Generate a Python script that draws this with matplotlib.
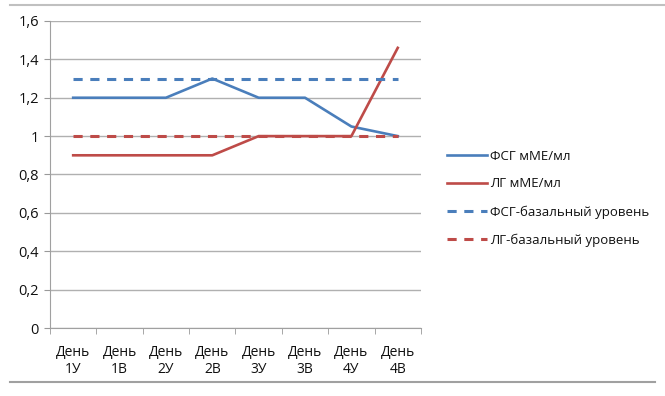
import matplotlib
matplotlib.use("Agg")
import matplotlib.pyplot as plt
from matplotlib.lines import Line2D
from matplotlib.ticker import FuncFormatter

plt.rcParams['font.family'] = ['Open Sans', 'DejaVu Sans']

# данные
days = ["День\n1У", "День\n1В", "День\n2У", "День\n2В",
        "День\n3У", "День\n3В", "День\n4У", "День\n4В"]
fsg = [1.2, 1.2, 1.2, 1.3, 1.2, 1.2, 1.05, 1.0]
lg = [0.9, 0.9, 0.9, 0.9, 1.0, 1.0, 1.0, 1.46]
fsg_base = [1.3] * 8
lg_base = [1.0] * 8

blue = "#4A7EBB"
red = "#BE4B48"
txt = "#111111"

fig = plt.figure(figsize=(6.65, 3.96), dpi=100)
ax = fig.add_axes([0.0752, 0.1717, 0.5578, 0.7753])

x = list(range(len(days)))
ax.plot(x, fsg, color=blue, lw=1.9, label="ФСГ мМЕ/мл")
ax.plot(x, lg, color=red, lw=1.9, label="ЛГ мМЕ/мл")
ax.plot(x, fsg_base, color=blue, lw=2.2, ls=(0, (3, 2.5)), label="ФСГ-базальный уровень")
ax.plot(x, lg_base, color=red, lw=2.2, ls=(0, (3, 2.5)), label="ЛГ-базальный уровень")

ax.set_xlim(-0.5, len(days) - 0.5)
ax.set_ylim(0, 1.6)
ax.set_yticks([0, 0.2, 0.4, 0.6, 0.8, 1.0, 1.2, 1.4, 1.6])
ax.yaxis.set_major_formatter(FuncFormatter(lambda v, p: ("%g" % round(v, 1)).replace(".", ",")))
ax.set_xticks(x)
ax.set_xticklabels(days)
ax.set_xticks([i - 0.5 for i in range(len(days) + 1)], minor=True)
ax.tick_params(axis='x', which='major', length=0, pad=12, labelsize=10, labelcolor=txt)
ax.tick_params(axis='x', which='minor', length=4, color="#999999")
ax.tick_params(axis='y', length=4, color="#999999", labelsize=10.5, labelcolor=txt, pad=4)
ax.grid(axis='y', color="#B0B0B0", lw=1)
ax.set_axisbelow(True)
for s in ['top', 'right']:
    ax.spines[s].set_visible(False)
ax.spines['left'].set_color("#A0A0A0")
ax.spines['bottom'].set_color("#A0A0A0")

leg = fig.legend(loc="upper left", bbox_to_anchor=(0.655, 0.652), frameon=False,
                 fontsize=9.5, handlelength=3.0, labelspacing=1.12, handletextpad=0.2)
for t in leg.get_texts():
    t.set_color(txt)

# линии рамки сверху и снизу
fig.add_artist(Line2D([0.015, 1.0], [0.987, 0.987], color="#C0C0C0", lw=1.5))
fig.add_artist(Line2D([0.015, 0.985], [0.035, 0.035], color="#A0A0A0", lw=1.5))

fig.savefig("out.png", dpi=100)
